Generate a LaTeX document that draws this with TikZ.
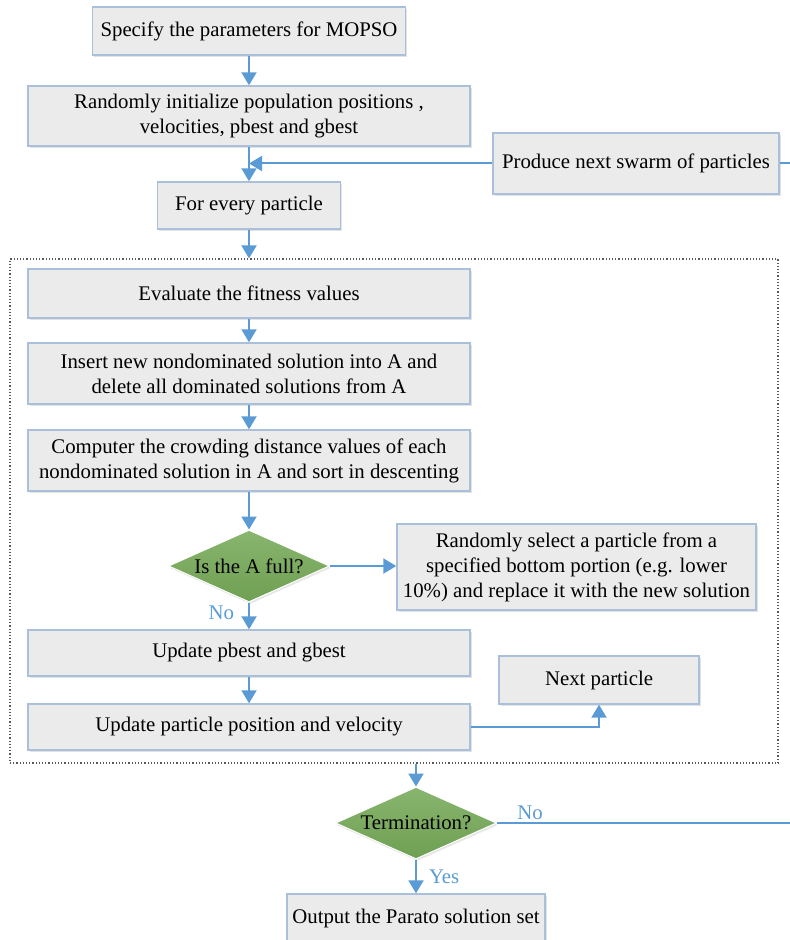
\documentclass[tikz,border=0pt]{standalone}
\usepackage{fontspec}
\setmainfont{Liberation Serif}
\usetikzlibrary{arrows.meta,shapes.geometric,shadows}
\definecolor{flowblue}{RGB}{91,155,213}
\definecolor{boxedge}{RGB}{170,192,218}
\definecolor{boxfill}{RGB}{235,235,235}
\definecolor{leafgreen}{RGB}{116,168,86}

\begin{document}
\begin{tikzpicture}[x=0.5pt,y=-0.5pt,
    every node/.style={font=\fontsize{10.4}{12.5}\selectfont},
    box/.style={draw=boxedge,line width=0.7pt,fill=boxfill,align=center,inner sep=2pt,
        drop shadow={opacity=0.22,shadow xshift=0.8pt,shadow yshift=-1.2pt}},
    wide/.style={minimum width=221pt},
    decision/.style={diamond,draw=white,line width=0.5pt,top color=leafgreen!85!white,
        bottom color=leafgreen!95!black,aspect=2.24,inner sep=0pt,minimum width=80.5pt,minimum height=36pt,
        drop shadow={opacity=0.2,shadow xshift=0.6pt,shadow yshift=-1pt}},
    frame/.style={draw=black!65,densely dotted,line width=0.6pt,inner sep=0pt},
    arr/.style={draw=flowblue,line width=1pt,-{Triangle[width=7.5pt,length=6.5pt]}},
    line/.style={draw=flowblue,line width=1pt},
    lbl/.style={text=flowblue,inner sep=1pt}]
    \useasboundingbox (0,0) rectangle (790,940);
    % outside the loop
    \node[box,minimum width=156.5pt,minimum height=24pt] (spec) at (249,31) {Specify the parameters for MOPSO};
    \node[box,wide,minimum height=30pt] (init) at (249,116) {Randomly initialize population positions ,\\velocities, pbest and gbest};
    \node[box,minimum width=143pt,minimum height=30.5pt] (produce) at (636,163.5) {Produce next swarm of particles};
    \node[box,minimum width=91.5pt,minimum height=23.5pt] (every) at (249,205.5) {For every particle};
    \node[frame,minimum width=384pt,minimum height=252pt] (loop) at (394,511) {};
    %
    \node[box,wide,minimum height=24.5pt] (eval) at (249,293.5) {Evaluate the fitness values};
    \node[box,wide,minimum height=30.5pt] (insert) at (249,373.5) {Insert new nondominated solution into A and\\delete all dominated solutions from A};
    \node[box,wide,minimum height=30.5pt] (crowd) at (249,460.5) {Computer the crowding distance values of each\\nondominated solution in A and sort in descenting};
    \node[decision] (full) at (249,566) {Is the A full?};
    \node[box,minimum width=179.5pt,minimum height=43pt] (rand) at (576.5,567) {Randomly select a particle from a\\specified bottom portion (e.g. lower\\10\%) and replace it with the new solution};
    \node[box,wide,minimum height=23pt] (pbest) at (249,653) {Update pbest and gbest};
    \node[box,wide,minimum height=23pt] (move) at (249,727) {Update particle position and velocity};
    \node[box,minimum width=100pt,minimum height=24pt] (next) at (599,680) {Next particle};
    %
    \node[decision] (term) at (416,823) {Termination?};
    \node[box,minimum width=129pt,minimum height=24pt] (out) at (416,918) {Output the Parato solution set};
    %
    \draw [arr](spec)to(init);
    \draw [arr](init)to(every);
    \draw [arr](produce)to(produce.west -| every.north);
    \draw [arr](every)to(every.south |- loop.north);
    \draw [arr](eval)to(insert);
    \draw [arr](insert)to(crowd);
    \draw [arr](crowd)to(full);
    \draw [arr](full)to(full.east -| rand.west);
    \draw [arr](full)to node[lbl,left=6pt,pos=0.4](nofull){No}(pbest);
    \draw [arr](pbest)to(move);
    \draw [arr](move.east)-|(next.south);
    %
    \draw [arr](term.north |- loop.south)to(term);
    \draw [line](term.east)--++(300,0) node[lbl,above,pos=0.11](noterm){No} |-(produce.east);
    \draw [arr](term)to node[lbl,right=5pt,pos=0.5](yes){Yes}(out);
\end{tikzpicture}
\end{document}
